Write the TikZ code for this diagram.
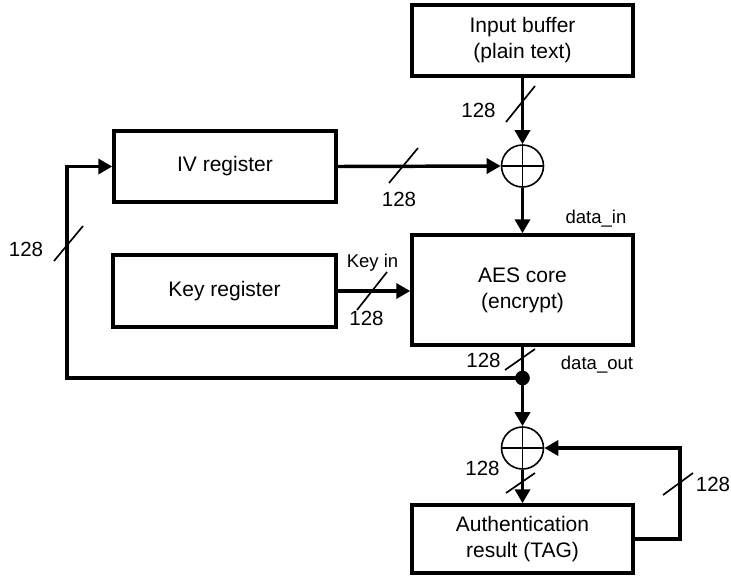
\documentclass[tikz,border=0pt]{standalone}
\usepackage{fontspec}
\setmainfont{Liberation Sans}
\usetikzlibrary{arrows.meta,calc}
\tikzset{
  boxnode/.style={draw, line width=2.6pt, inner sep=0pt, align=center,
    font=\fontsize{15.75}{19.5}\selectfont},
  xornode/.style={draw, circle, line width=1.2pt, inner sep=0pt, minimum size=31.5pt},
  thickline/.style={line width=2.6pt},
  thinline/.style={line width=1.25pt},
  arr/.style={-{Triangle[length=10.5pt,width=11.25pt]}},
  buslabel/.style={inner sep=0pt, font=\fontsize{15.4}{18}\selectfont},
  siglabel/.style={inner sep=0pt, font=\fontsize{13.9}{16}\selectfont},
}
\begin{document}
\begin{tikzpicture}[x=0.75pt, y=-0.75pt]
\useasboundingbox (0,0) rectangle (731,575);

% boxes
\node[boxnode, minimum width=165.75pt, minimum height=53.25pt] (inbuf) at (522.5,40.5) {Input buffer\\(plain text)};
\node[boxnode, minimum width=166.5pt, minimum height=53.25pt] (iv) at (225,166.5) {IV register};
\node[boxnode, minimum width=167.25pt, minimum height=54pt] (key) at (224.5,291) {Key register};
\node[boxnode, minimum width=165.75pt, minimum height=82.5pt] (aes) at (522.5,290) {AES core\\(encrypt)};
\node[boxnode, minimum width=165.75pt, minimum height=51pt] (auth) at (522.5,539) {Authentication\\result (TAG)};

% xor circles
\node[xornode] (xa) at (522.5,166) {};
\draw[line width=1.2pt] (xa.north) -- (xa.south) (xa.west) -- (xa.east);
\node[xornode] (xb) at (522.5,448) {};
\draw[line width=1.2pt] (xb.north) -- (xb.south) (xb.west) -- (xb.east);

% junction dot
\coordinate (jn) at (522.5,378);
\coordinate (fbl) at (67,378);
\coordinate (fbt) at (67,166.5);
\coordinate (fbr) at (680,539);
\coordinate (fbrt) at (680,448);

% connectors
\draw[thickline, arr] (inbuf.south) -- (xa.north);
\draw[thickline, arr] (iv.east) -- (xa.west);
\draw[thickline, arr] (xa.south) -- (aes.north);
\draw[thickline, arr] (key.east) -- (key.east -| aes.west);
\draw[thickline] (aes.south) -- (jn);
\draw[thickline, arr] (jn) -- (xb.north);
\draw[thickline, arr] (xb.south) -- (auth.north);
\draw[thickline, arr] (jn) -- (fbl) -- (fbt) -- (iv.west);
\draw[thickline, arr] (auth.east) -- (fbr) -- (fbrt) -- (xb.east);
\node[circle, fill, inner sep=0pt, minimum size=11pt] (dot) at (jn) {};

% bus width slashes
\draw[thinline] (506,122) -- (535,86);
\draw[thinline] (389,183) -- (418,148);
\draw[thinline] (54,261) -- (83,226);
\draw[thinline] (357,310) -- (387,272);
\draw[thinline] (505,370) -- (535,349);
\draw[thinline] (506,493) -- (535,473);
\draw[thinline] (663,495) -- (693,473);

% labels
\node[buslabel] (l1) at (478.5,110) {128};
\node[buslabel] (l2) at (399,199) {128};
\node[buslabel] (l3) at (26,249) {128};
\node[buslabel] (l4) at (366.5,318) {128};
\node[buslabel] (l5) at (483.5,360) {128};
\node[buslabel] (l6) at (482.5,468) {128};
\node[buslabel] (l7) at (713,484) {128};
\node[siglabel] (kin) at (372.5,263) {Key in};
\node[siglabel] (din) at (596,219) {data\_in};
\node[siglabel] (dout) at (597,365) {data\_out};
\end{tikzpicture}
\end{document}
